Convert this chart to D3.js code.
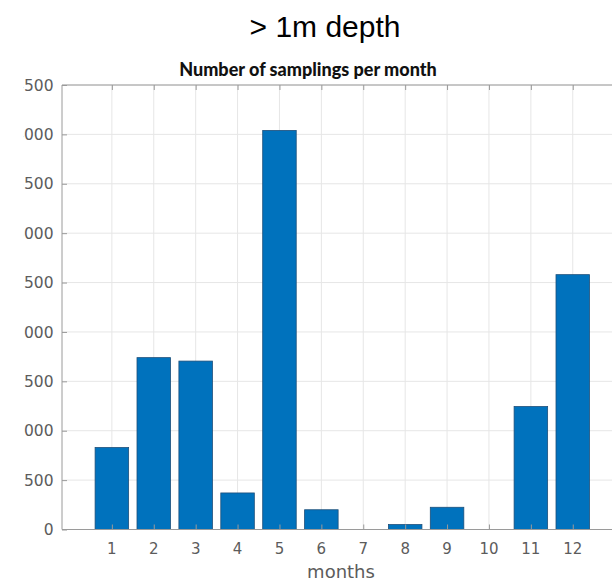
<!DOCTYPE html>
<html>
<head>
<meta charset="utf-8">
<script src="https://cdn.jsdelivr.net/npm/d3@7"></script>
<style>
  html, body { margin: 0; padding: 0; background: #fff; }
  svg { display: block; }
</style>
</head>
<body>
<svg id="chart" width="612" height="584"></svg>
<script>
// Samplings per month, deeper than 1 m
const months = [1, 2, 3, 4, 5, 6, 7, 8, 9, 10, 11, 12];
const samplings = [830, 1740, 1705, 370, 4040, 200, 0, 50, 225, 0, 1245, 2580];
const yTicks = [0, 500, 1000, 1500, 2000, 2500, 3000, 3500, 4000, 4500];
const monthLabels = ["1", "2", "3", "4", "5", "6", "7", "8", "9", "10", "11", "12"];

const svg = d3.select("#chart");

const plotLeft = 62, plotTop = 85, plotBottom = 529.5;

const x = d3.scaleLinear().domain([-0.19, 13.19]).range([plotLeft, plotLeft + 13.38 * 41.9]);
const y = d3.scaleLinear().domain([0, 4500]).range([plotBottom, plotTop]);

const plotRight = x(13.19);
const gridColor = "#e6e6e6";
const axisColor = "#9a9a9a";
const labelColor = "#5c5c5c";

// grid
svg.append("g")
  .selectAll("line")
  .data(yTicks)
  .join("line")
  .attr("x1", plotLeft).attr("x2", plotRight)
  .attr("y1", d => y(d)).attr("y2", d => y(d))
  .attr("stroke", gridColor).attr("stroke-width", 1);

svg.append("g")
  .selectAll("line")
  .data(months)
  .join("line")
  .attr("x1", d => x(d)).attr("x2", d => x(d))
  .attr("y1", plotTop).attr("y2", plotBottom)
  .attr("stroke", gridColor).attr("stroke-width", 1);

// bars
const bw = x(0.8) - x(0);
svg.append("g")
  .selectAll("rect")
  .data(months)
  .join("rect")
  .attr("x", d => x(d) - bw / 2)
  .attr("y", (d, i) => y(samplings[i]))
  .attr("width", bw)
  .attr("height", (d, i) => y(0) - y(samplings[i]))
  .attr("fill", "#0072BD")
  .attr("stroke", "#1d4f7a")
  .attr("stroke-width", 0.8);

// axes frame with inward ticks
const yAxis = d3.axisLeft(y).tickValues(yTicks).tickSize(-5).tickFormat("");
const gy = svg.append("g").attr("transform", `translate(${plotLeft},0)`).call(yAxis);
gy.select(".domain").remove();
gy.selectAll("line").attr("stroke", axisColor);

const xAxisB = d3.axisBottom(x).tickValues(months).tickSize(-5).tickFormat("");
const gxb = svg.append("g").attr("transform", `translate(0,${plotBottom})`).call(xAxisB);
gxb.select(".domain").remove();
gxb.selectAll("line").attr("stroke", axisColor);

const xAxisT = d3.axisTop(x).tickValues(months).tickSize(-5).tickFormat("");
const gxt = svg.append("g").attr("transform", `translate(0,${plotTop})`).call(xAxisT);
gxt.select(".domain").remove();
gxt.selectAll("line").attr("stroke", axisColor);

svg.append("path")
  .attr("d", `M${plotRight},${plotTop}H${plotLeft}V${plotBottom}H${plotRight}`)
  .attr("fill", "none")
  .attr("stroke", axisColor)
  .attr("stroke-width", 1);

// y tick labels (left edge of the figure is trimmed)
svg.append("defs").append("clipPath").attr("id", "ylab-clip")
  .append("rect").attr("x", 23.5).attr("y", 0).attr("width", 40).attr("height", 584);

svg.append("g")
  .attr("clip-path", "url(#ylab-clip)")
  .selectAll("text")
  .data(yTicks)
  .join("text")
  .attr("x", 53.5)
  .attr("y", d => y(d))
  .attr("dy", "0.36em")
  .attr("text-anchor", "end")
  .attr("font-family", "DejaVu Sans, sans-serif")
  .attr("font-size", 15.5)
  .attr("fill", labelColor)
  .text(d => d);

// month labels
svg.append("g")
  .selectAll("text")
  .data(months)
  .join("text")
  .attr("x", d => x(d))
  .attr("y", 554)
  .attr("text-anchor", "middle")
  .attr("font-family", "DejaVu Sans, sans-serif")
  .attr("font-size", 15)
  .attr("fill", labelColor)
  .text((d, i) => monthLabels[i]);

svg.append("text")
  .attr("x", 341).attr("y", 578)
  .attr("text-anchor", "middle")
  .attr("font-family", "DejaVu Sans, sans-serif")
  .attr("font-size", 18)
  .attr("fill", labelColor)
  .text("months");

// titles
svg.append("text")
  .attr("x", 308).attr("y", 76)
  .attr("text-anchor", "middle")
  .attr("font-family", "Lato, sans-serif")
  .attr("font-weight", 900)
  .attr("font-size", 18)
  .attr("fill", "#111")
  .text("Number of samplings per month");

svg.append("text")
  .attr("x", 325).attr("y", 37)
  .attr("text-anchor", "middle")
  .attr("font-family", "Liberation Sans, Arial, sans-serif")
  .attr("font-size", 30)
  .attr("fill", "#000")
  .text("> 1m depth");
</script>
</body>
</html>
